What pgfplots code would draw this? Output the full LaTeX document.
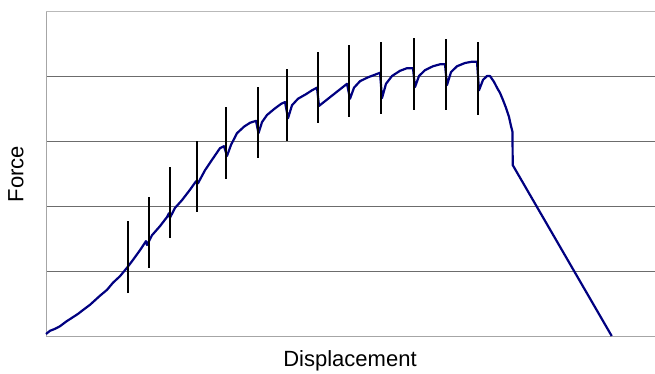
\documentclass[border=0pt]{standalone}
\usepackage{fontspec}
\setmainfont{Liberation Sans}
\usepackage{pgfplots}
\pgfplotsset{compat=1.18}
\definecolor{curve}{RGB}{0,0,128}
\begin{document}
\begin{tikzpicture}
\useasboundingbox (-46pt,-38pt) rectangle (609pt,336pt);
\begin{axis}[
  at={(0pt,0pt)}, anchor=south west,
  width=609pt, height=325pt, scale only axis,
  xmin=0, xmax=609, ymin=0, ymax=50,
  axis x line*=bottom, axis y line*=left,
  axis line style={draw=gray!70, line width=0.8pt, -},
  xtick=\empty, ytick={10,20,30,40},
  yticklabels={,,,}, ytick style={draw=none},
  ymajorgrids, grid style={draw=gray!85!black, line width=0.8pt},
  extra y ticks={50}, extra y tick labels={},
  extra y tick style={grid style={draw=gray!55, line width=0.8pt}, tick style={draw=none}},
  clip=false,
  unbounded coords=jump,
]
\addplot[curve, line width=2.2pt, line join=round] coordinates {
(0,0.3) (4,0.8) (9,1.1) (14,1.5) (20,2.2) (26,2.8) (32,3.4) (37,4.0) (44,4.8)
(54,6.2) (61,7.1) (67,8.2) (74,9.2) (81,10.5)
(86,11.5) (94,13.2) (100,14.6) (101,14.0)
(106,15.5) (114,16.9) (121,18.3) (123,18.9) (124,18.2)
(129,19.7) (136,20.9) (144,22.5) (150,23.8)
(152,23.5) (159,25.5) (166,27.1) (174,28.9) (178,29.2)
(181,27.7) (185,29.4) (191,31.2) (198,32.2) (204,32.8) (210,33.1)
(212.5,31.2) (216,32.9) (221,34.0) (228,34.9) (235,35.7) (239,36.0)
(242,33.5) (246,35.5) (252,36.5) (260,37.2) (266,37.8) (271,38.2)
(273,35.4) (301,38.8)
(304,36.5) (308,38.2) (314,39.2) (322,39.8) (329,40.2) (334,40.5)
(336,36.6) (340,38.8) (346,40.0) (354,40.8) (361,41.2) (367,41.2)
(369,38.3) (373,40.0) (379,40.9) (387,41.5) (394,41.8) (399,41.8)
(401,38.6) (405,40.6) (411,41.5) (419,42.0) (426,42.2) (431,42.2)
(433,37.8) (437,39.4) (441,40.0) (444,40.0) (448,39.1) (451,38.2)
(454,37.4) (457,36.3) (460,35.1) (463,33.7) (465,32.3) (466.5,31.4)
(466.7,26.3) (565.7,0)
};
\addplot[black, line width=2.4pt] coordinates {
(82,6.6) (82,17.7) (nan,nan)
(103,10.5) (103,21.4) (nan,nan)
(124,15.1) (124,26.0) (nan,nan)
(151,19.1) (151,30.0) (nan,nan)
(180,24.2) (180,35.2) (nan,nan)
(212,27.4) (212,38.3) (nan,nan)
(241,30.0) (241,41.1) (nan,nan)
(272,32.8) (272,43.7) (nan,nan)
(303,33.7) (303,44.8) (nan,nan)
(335,34.2) (335,45.2) (nan,nan)
(368,34.8) (368,45.8) (nan,nan)
(400,34.8) (400,45.7) (nan,nan)
(432,34.0) (432,45.2)
};
\end{axis}
\node[rotate=90, font=\fontsize{22}{26}\selectfont] at (-30pt,162pt) {Force};
\node[font=\fontsize{22}{26}\selectfont] at (304pt,-25pt) {Displacement};
\end{tikzpicture}
\end{document}
